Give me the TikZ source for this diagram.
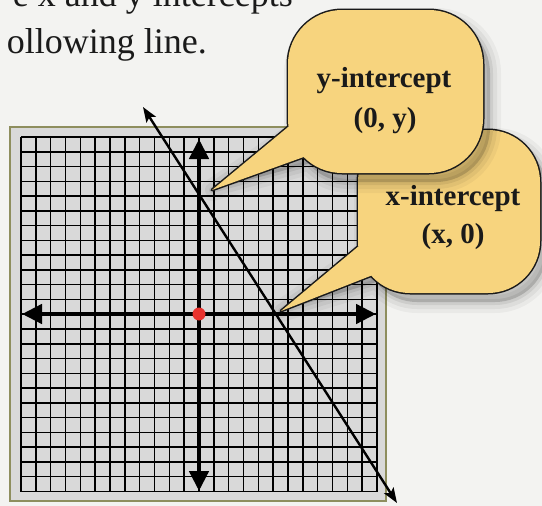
\documentclass[tikz,border=0pt]{standalone}
\usepackage{fontspec}
\setmainfont{Liberation Serif}
\usetikzlibrary{arrows.meta}
\definecolor{bg}{HTML}{F3F3F1}
\definecolor{panel}{HTML}{D9D9D9}
\definecolor{olive}{HTML}{8E8E5E}
\definecolor{bubblefill}{HTML}{F7D47E}
\definecolor{dotred}{HTML}{E8322E}
\definecolor{ink}{HTML}{1A1A1A}
\begin{document}
\begin{tikzpicture}[x=1pt,y=-1pt,
  gridline/.style={black, line width=1.5pt},
  axisline/.style={black, line width=4.5pt, {Triangle[length=20pt,width=19pt]}-{Triangle[length=20pt,width=19pt]}},
  graphline/.style={black, line width=2.4pt, {Stealth[length=15pt,width=11pt,inset=3pt]}-{Stealth[length=15pt,width=11pt,inset=3pt]}},
  headtext/.style={text=ink, font=\fontsize{36}{40}\selectfont, inner sep=0pt, anchor=base east},
  bubbletext/.style={text=ink, font=\bfseries\fontsize{29}{34}\selectfont, inner sep=0pt, anchor=base},
  bubbleline/.style={ink, line width=3pt, line join=round},
]
\useasboundingbox (0,0) rectangle (542,506);
\clip (0,0) rectangle (542,506);
\fill[bg] (0,0) rectangle (542,506);

% heading text (cut by the picture edge)
\node[headtext] (head1) at (293,6) {e x and y intercepts};
\node[headtext] (head2) at (207,53) {ollowing line.};

% panel
\draw[olive, line width=2.5pt, fill=panel] (10,127) rectangle (386,501);
\foreach \i in {0,...,24} {
  \draw[gridline] ({21+\i*14.833},137) -- ({21+\i*14.833},491.5);
  \draw[gridline] (21,{137+\i*14.77}) -- (377,{137+\i*14.77});
}

% axes
\coordinate (ytop) at (199,139);
\coordinate (ybot) at (199,491);
\coordinate (xleft) at (22,314);
\coordinate (xright) at (376,314);
\draw[axisline] (ybot) -- (ytop);
\draw[axisline] (xleft) -- (xright);

% graph line
\coordinate (lineA) at (143,107);
\coordinate (lineB) at (397,503);
\draw[graphline] (lineA) -- (lineB);

% origin
\node[circle, fill=dotred, minimum size=13pt, inner sep=0pt] (origin) at (199,314) {};

% tips of the callouts
\coordinate (ytip) at (212,190);
\coordinate (xtip) at (281,311);

% x-intercept callout (behind)
\def\xbubble{[rounded corners=52pt] (358,130) rectangle (540,293) [sharp corners] (xtip) -- (406,262) -- (384,225) -- cycle}
\begin{scope}[shift={(7,9)}]
  \foreach \w/\o in {22/0.04,14/0.05,6/0.07} {
    \draw[black, opacity=\o, line width=\w pt, line join=round] \xbubble;
  }
  \fill[black, opacity=0.16] \xbubble;
\end{scope}
\draw[bubbleline] \xbubble;
\fill[bubblefill] \xbubble;
\node[bubbletext] (xtitle) at (453,205) {x-intercept};
\node[bubbletext] (xcoord) at (453,243) {(x, 0)};

% y-intercept callout (front)
\def\ybubble{[rounded corners=54pt] (288,10) rectangle (483,173) [sharp corners] (ytip) -- (337,145) -- (311,108) -- cycle}
\begin{scope}[shift={(7,9)}]
  \foreach \w/\o in {22/0.04,14/0.05,6/0.07} {
    \draw[black, opacity=\o, line width=\w pt, line join=round] \ybubble;
  }
  \fill[black, opacity=0.16] \ybubble;
\end{scope}
\draw[bubbleline] \ybubble;
\fill[bubblefill] \ybubble;
\node[bubbletext] (ytitle) at (384,88) {y-intercept};
\node[bubbletext] (ycoord) at (385,127) {(0, y)};
\end{tikzpicture}
\end{document}
